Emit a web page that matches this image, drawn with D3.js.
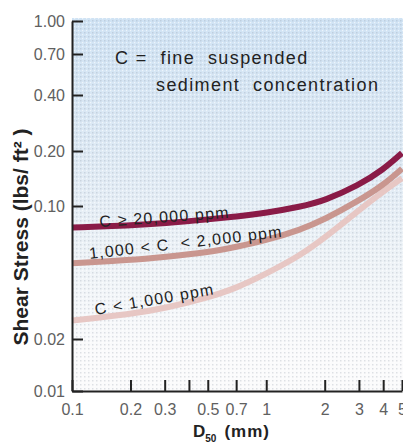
<!DOCTYPE html>
<html>
<head>
<meta charset="utf-8">
<script src="https://cdn.jsdelivr.net/npm/d3@7"></script>
<style>
  html, body { margin: 0; padding: 0; background: #fff; }
  svg { display: block; font-family: "Liberation Sans", Arial, Helvetica, sans-serif; }
</style>
</head>
<body>
<svg id="chart" width="403" height="444"></svg>
<script>
// D50 sample points (mm) and shear stress (lbs/ft²) for each concentration band
const d50 = [0.1, 0.2, 0.3, 0.5, 0.7, 1, 1.5, 2, 3, 4, 5];
const stressHigh = [0.077, 0.079, 0.081, 0.085, 0.088, 0.092, 0.099, 0.107, 0.13, 0.158, 0.195];
const stressMid = [0.050, 0.052, 0.054, 0.057, 0.061, 0.066, 0.075, 0.085, 0.107, 0.13, 0.16];
const stressLow = [0.025, 0.027, 0.029, 0.033, 0.037, 0.044, 0.055, 0.068, 0.095, 0.12, 0.142];
const seriesNames = ['C ≥ 20,000 ppm', '1,000 < C  < 2,000 ppm', 'C < 1,000 ppm'];

const xTicks = [0.1, 0.2, 0.3, 0.4, 0.5, 0.7, 1, 2, 3, 4, 5];
const xTickLabels = ['0.1', '0.2', '0.3', '', '0.5', '0.7', '1', '2', '3', '4', '5'];
const yTicks = [0.01, 0.02, 0.1, 0.2, 0.4, 0.7, 1.0];
const yTickLabels = ['0.01', '0.02', '0.10', '0.20', '0.40', '0.70', '1.00'];

const svg = d3.select('#chart');
const plotL = 72, plotR = 402, plotT = 18, plotB = 391;

const x = d3.scaleLog().domain([0.1, 5]).range([plotL, plotR]);
// the printed axis is not evenly logarithmic, so follow its tick marks piecewise
const y = d3.scaleLog()
  .domain([0.01, 0.02, 0.1, 0.2, 0.4, 0.7, 1.0])
  .range([391, 339, 206, 151, 95, 54, 21]);

// ---- background ----
const defs = svg.append('defs');
const grad = defs.append('linearGradient')
  .attr('id', 'bg').attr('x1', 0).attr('y1', 0).attr('x2', 0).attr('y2', 1);
grad.append('stop').attr('offset', '0%').attr('stop-color', '#d0e3f4');
grad.append('stop').attr('offset', '35%').attr('stop-color', '#dde9f4');
grad.append('stop').attr('offset', '65%').attr('stop-color', '#eef3f7');
grad.append('stop').attr('offset', '90%').attr('stop-color', '#fbfbfc');

const pat = defs.append('pattern')
  .attr('id', 'dots').attr('width', 4).attr('height', 4)
  .attr('patternUnits', 'userSpaceOnUse');
pat.append('rect').attr('x', 0).attr('y', 0).attr('width', 1.5).attr('height', 1.5)
  .attr('fill', 'rgba(130,145,160,0.25)');
pat.append('rect').attr('x', 2).attr('y', 2).attr('width', 1.2).attr('height', 1.2)
  .attr('fill', 'rgba(255,255,255,0.6)');

svg.append('rect')
  .attr('x', plotL).attr('y', plotT).attr('width', 403 - plotL).attr('height', plotB - plotT)
  .attr('fill', 'url(#bg)');
svg.append('rect')
  .attr('x', plotL).attr('y', plotT).attr('width', 403 - plotL).attr('height', plotB - plotT)
  .attr('fill', 'url(#dots)');

// ---- curves ----
const line = d3.line()
  .x((d) => x(d[0]))
  .y((d) => y(d[1]))
  .curve(d3.curveBasis);

const series = [
  { name: seriesNames[0], values: stressHigh, color: '#8a1b47' },
  { name: seriesNames[1], values: stressMid, color: '#c9968f' },
  { name: seriesNames[2], values: stressLow, color: '#e7c7c4' },
];

svg.append('g')
  .selectAll('path')
  .data(series.slice().reverse())
  .join('path')
  .attr('d', (s) => line(d50.map((v, i) => [v, s.values[i]])))
  .attr('fill', 'none')
  .attr('stroke', (s) => s.color)
  .attr('stroke-width', 6);

// ---- axes ----
const xAxis = svg.append('g')
  .attr('transform', `translate(0,${plotB})`)
  .call(d3.axisBottom(x)
    .tickValues(xTicks)
    .tickFormat((d, i) => xTickLabels[i])
    .tickSizeInner(-11).tickSizeOuter(0).tickPadding(13));

const yAxis = svg.append('g')
  .attr('transform', `translate(${plotL},0)`)
  .call(d3.axisLeft(y)
    .tickValues(yTicks)
    .tickFormat((d, i) => yTickLabels[i])
    .tickSizeInner(-11).tickSizeOuter(0).tickPadding(7));

[xAxis, yAxis].forEach((g) => {
  g.select('.domain').attr('stroke', '#222').attr('stroke-width', 2);
  g.selectAll('.tick line').attr('stroke', '#222').attr('stroke-width', 2);
  g.selectAll('.tick text')
    .attr('font-size', 16)
    .attr('font-family', '"Liberation Sans", Arial, sans-serif')
    .attr('fill', '#606060');
});

// ---- curve labels ----
const labelSpecs = [
  { text: seriesNames[0], at: [0.139, 0.0776], angle: -4 },
  { text: seriesNames[1], at: [0.1235, 0.0527], angle: -6.5 },
  { text: seriesNames[2], at: [0.1326, 0.0267], angle: -10 },
];
svg.append('g')
  .selectAll('text')
  .data(labelSpecs)
  .join('text')
  .attr('transform', (d) => `translate(${x(d.at[0])},${y(d.at[1])}) rotate(${d.angle})`)
  .attr('font-size', 16)
  .attr('letter-spacing', 1.2)
  .attr('fill', '#222')
  .attr('xml:space', 'preserve')
  .text((d) => d.text);

// ---- note ----
const note = svg.append('g').attr('fill', '#222').attr('font-size', 18).attr('letter-spacing', 1.4);
note.append('text').attr('x', 115).attr('y', 64).attr('xml:space', 'preserve')
  .text('C =  fine  suspended');
note.append('text').attr('x', 156).attr('y', 91).attr('xml:space', 'preserve')
  .text('sediment  concentration');

// ---- axis titles ----
const xt = svg.append('text')
  .attr('x', 193).attr('y', 437)
  .attr('font-weight', 'bold').attr('font-size', 17).attr('fill', '#222');
xt.append('tspan').text('D');
xt.append('tspan').attr('font-size', 10).attr('dy', 5).text('50');
xt.append('tspan').attr('dx', 8).attr('dy', -5).attr('letter-spacing', 1).text('(mm)');

svg.append('text')
  .attr('transform', 'translate(28,237) rotate(-90)')
  .attr('text-anchor', 'middle')
  .attr('font-weight', 'bold').attr('font-size', 21).attr('fill', '#222')
  .attr('xml:space', 'preserve')
  .text('Shear Stress (lbs/ ft² )');
</script>
</body>
</html>
